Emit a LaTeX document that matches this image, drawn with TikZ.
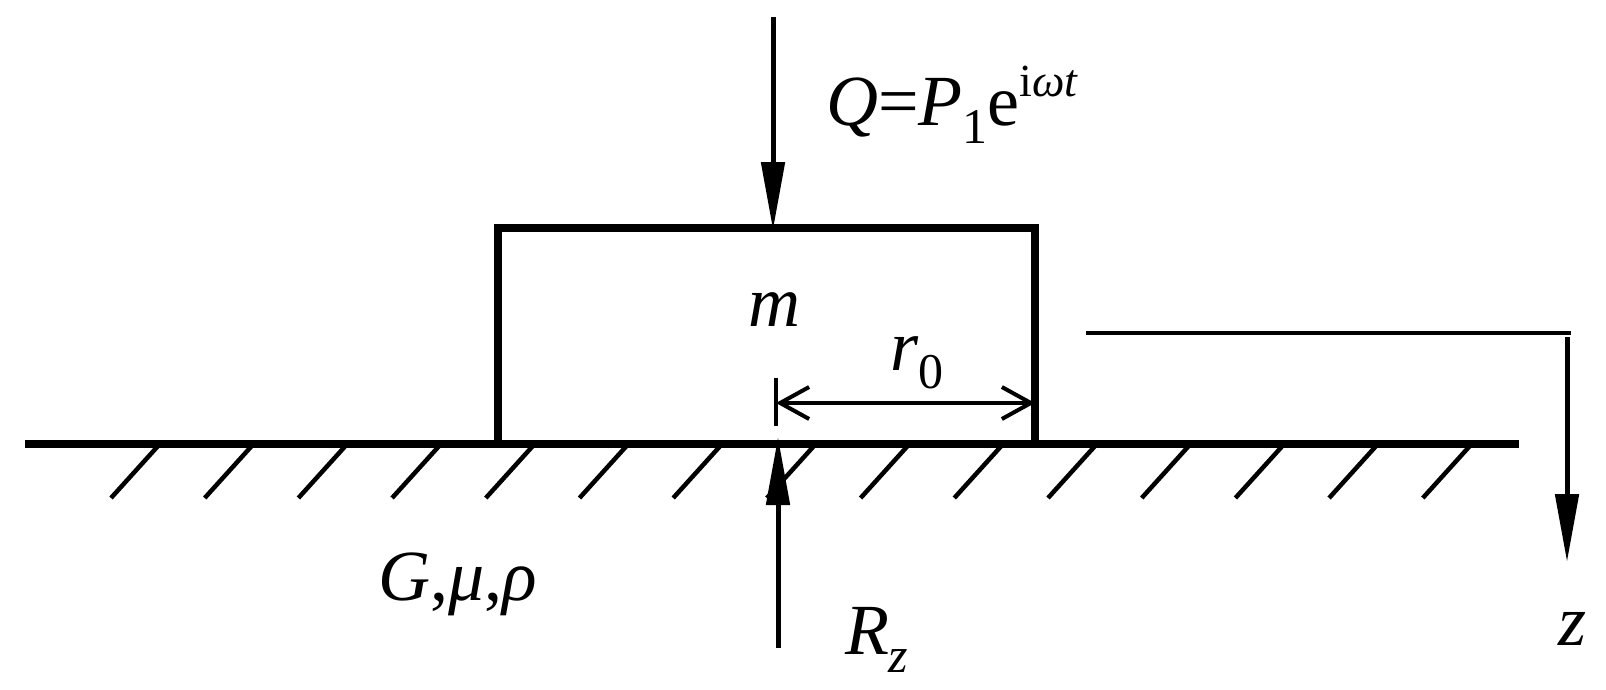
\documentclass[tikz,border=0pt]{standalone}
\usepackage{fontspec}
\setmainfont{Liberation Serif}
\usetikzlibrary{arrows.meta}
\usetikzlibrary{positioning}
\newcommand{\lowtext}[1]{\raisebox{-18pt}{\fontsize{50}{50}\selectfont #1}}
\newcommand{\hightext}[1]{\raisebox{29pt}{\fontsize{46}{46}\selectfont #1}}
\tikzset{
x=1pt,y=-1pt,
solid head/.style={-{Triangle[length=68pt,width=23pt]}},
open head/.style={{Straight Barb[length=29pt,width=32pt,line width=4pt]}-{Straight Barb[length=29pt,width=32pt,line width=4pt]}},
my block/.style={draw,rectangle,line width=7.5pt,outer sep=0pt,minimum width=537pt,minimum height=216pt},
my ground/.style={line width=7.5pt},
my hatch/.style={line width=4.5pt},
my force/.style={line width=5pt},
my axis/.style={line width=4.5pt},
my label/.style={inner sep=0pt,outer sep=0pt,font=\fontsize{72}{72}\selectfont},
}
\begin{document}
\begin{tikzpicture}
\useasboundingbox (0,0) rectangle (1606,690);
\fill[white] (0,0) rectangle (1606,690);
\node[my block] (block) at (766.5,336) {};
\coordinate (groundL) at (25,444);
\coordinate (groundR) at (1519,444);
\draw[my ground] (groundL) -- (groundR);

\foreach \k in {0,...,14}
  \draw[my hatch] (158+93.7*\k,446) -- ++(-47,52);

\coordinate (load) at (773,17);
\draw[my force,solid head,shorten >=-2pt] (load) -- (load |- block.north);
\node[my label,anchor=base west] (loadtext) at (826,126) {\textit{Q}=\textit{P}\lowtext{1}e\hightext{i\textit{ωt}}};
\node[my label] (masstext) at (774,310) {\textit{m}};

\coordinate (axisT) at (776,378);
\coordinate (axisB) at (776,426);
\draw[my axis] (axisT) -- (axisB);
\coordinate (radius) at (776,403);
\draw[my axis,open head] (radius) -- (radius -| block.east);
\node[my label,anchor=base west] (radiustext) at (890,370) {\textit{r}\lowtext{0}};

\coordinate (react) at (778,648);
\coordinate (reacttip) at (778,437);
\draw[my force,solid head] (react) -- (reacttip);
\node[my label,anchor=base west] (reacttext) at (845,654) {\textit{R}\lowtext{\textit{z}}};
\node[my label,anchor=base west] (soiltext) at (378,600) {\textit{G},\textit{μ},\textit{ρ}};

\coordinate (depthL) at (1086,333);
\coordinate (depthR) at (1571,333);
\draw[my axis] (depthL) -- (depthR);
\coordinate (depthT) at (1567,337);
\coordinate (depthB) at (1567,562);
\draw[my force,solid head] (depthT) -- (depthB);
\node[my label,anchor=base] (depthtext) at (1572,645) {\textit{z}};
\end{tikzpicture}
\end{document}
